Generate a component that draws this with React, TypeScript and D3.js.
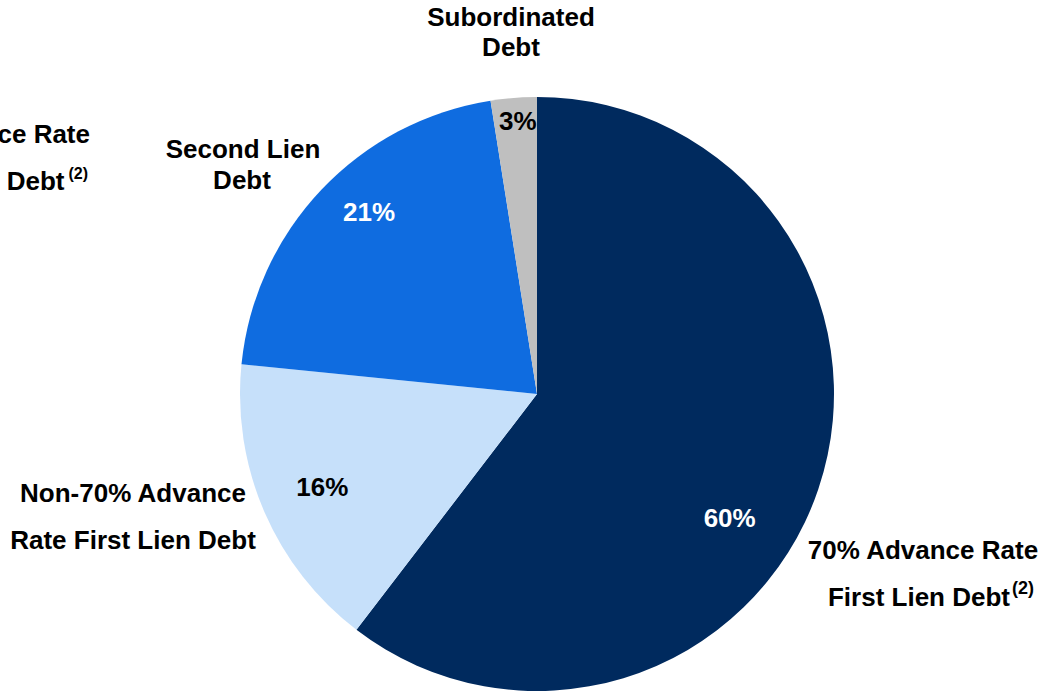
import * as d3 from "d3";

// slice order, clockwise from 12 o'clock
const categories = [
  "70% Advance Rate First Lien Debt",
  "Non-70% Advance Rate First Lien Debt",
  "Second Lien Debt",
  "Subordinated Debt",
];
const shares = [60.4, 16.2, 20.9, 2.5];
const pctLabels = ["60%", "16%", "21%", "3%"];
const colors = ["#002A5E", "#C6E0FA", "#0F6CE0", "#BFBFBF"];
const pctColors = ["#FFFFFF", "#000000", "#FFFFFF", "#000000"];

const width = 1045;
const height = 692;
const cx = 537;
const cy = 394;
const radius = 297;
const font = "'Liberation Sans', Arial, sans-serif";
const fs = 26;

// label angle / radius tweaks so they sit where the original has them
const pctPlace = [
  { da: 14, r: 229 },
  { da: 0, r: 234 },
  { da: 4, r: 248 },
  { da: 0.5, r: 274 },
];

const App = () => {
  const pie = d3
    .pie<number>()
    .sort(null)
    .value((d) => d)
    .startAngle(0)
    .endAngle(2 * Math.PI);
  const arcs = pie(shares);
  const arc = d3.arc<d3.PieArcDatum<number>>().innerRadius(0).outerRadius(radius);

  return (
    <svg
      width={width}
      height={height}
      style={{ position: "absolute", left: 0, top: 0, background: "#fff" }}
      fontFamily={font}
      fontWeight="bold"
      fontSize={fs}
    >
      <g transform={`translate(${cx},${cy})`}>
        {arcs.map((a, i) => (
          <path key={categories[i]} d={arc(a) ?? ""} fill={colors[i]} />
        ))}
        {arcs.map((a, i) => {
          const mid = (a.startAngle + a.endAngle) / 2 + (pctPlace[i].da * Math.PI) / 180;
          const x = Math.sin(mid) * pctPlace[i].r;
          const y = -Math.cos(mid) * pctPlace[i].r;
          return (
            <text
              key={i}
              x={x}
              y={y + 9}
              textAnchor="middle"
              fill={pctColors[i]}
            >
              {pctLabels[i]}
            </text>
          );
        })}
      </g>

      {/* category labels */}
      <g fill="#000">
        <text x={511} y={26} textAnchor="middle">Subordinated</text>
        <text x={511} y={56} textAnchor="middle">Debt</text>

        <text x={243} y={158} textAnchor="middle">Second Lien</text>
        <text x={242} y={189} textAnchor="middle">Debt</text>

        <text x={133} y={502} textAnchor="middle">Non-70% Advance</text>
        <text x={133} y={549} textAnchor="middle">Rate First Lien Debt</text>

        <text x={923} y={559} textAnchor="middle">70% Advance Rate</text>
        <text x={931} y={606} textAnchor="middle">
          First Lien Debt<tspan fontSize={18} dx={2} dy={-12}>(2)</tspan>
        </text>

        {/* leftover label running off the left edge */}
        <text x={90} y={143} textAnchor="end">70% Advance Rate</text>
        <text x={88} y={190} textAnchor="end">
          First Lien Debt<tspan fontSize={16} dx={4} dy={-11}>(2)</tspan>
        </text>
      </g>
    </svg>
  );
};

export default App;
